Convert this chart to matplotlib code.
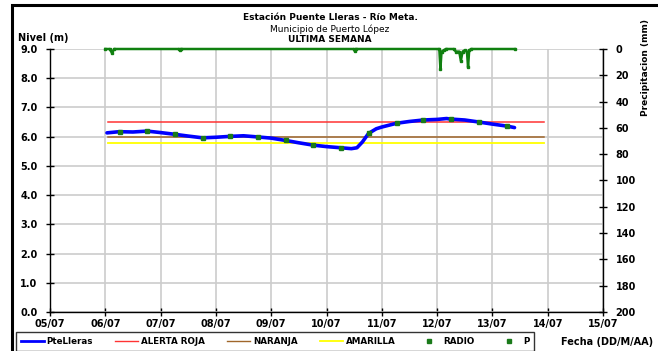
import matplotlib
matplotlib.use("Agg")
import matplotlib.pyplot as plt
from matplotlib.patches import Rectangle
from matplotlib.lines import Line2D

# ---------------- data ----------------
date_labels = ['05/07', '06/07', '07/07', '08/07', '09/07', '10/07',
               '11/07', '12/07', '13/07', '14/07', '15/07']

# level (days after 05/07 00:00, metres)
level_days = [1.03, 1.25, 1.50, 1.76, 2.00, 2.26, 2.50, 2.76, 3.00, 3.26, 3.50,
              3.76, 4.00, 4.26, 4.50, 4.76, 5.00, 5.26, 5.45, 5.55, 5.65, 5.76,
              5.90, 6.00, 6.27, 6.50, 6.75, 7.00, 7.17, 7.26, 7.50, 7.76, 8.00,
              8.27, 8.40]
level_vals = [6.13, 6.17, 6.16, 6.19, 6.14, 6.08, 6.02, 5.96, 5.98, 6.01, 6.03,
              5.99, 5.95, 5.87, 5.79, 5.71, 5.66, 5.62, 5.59, 5.62, 5.82, 6.11,
              6.27, 6.33, 6.46, 6.52, 6.57, 6.59, 6.62, 6.60, 6.57, 6.50, 6.43,
              6.36, 6.31]

radio_days = [1.26, 1.76, 2.26, 2.76, 3.26, 3.76, 4.26, 4.76, 5.26, 5.76,
              6.27, 6.75, 7.26, 7.76, 8.27]
radio_vals = [6.17, 6.18, 6.08, 5.95, 6.01, 5.99, 5.87, 5.71, 5.62, 6.11,
              6.46, 6.57, 6.60, 6.50, 6.36]

# thresholds (m) and their span (days)
alert_red = 6.5
alert_orange = 6.0
alert_yellow = 5.8
alert_span = [1.05, 8.93]

# precipitation (mm)
p_days = [1.00, 1.08, 1.12, 1.16, 2.33, 2.35, 2.37, 5.49, 5.51, 5.53,
          7.04, 7.06, 7.08, 7.12, 7.16, 7.30, 7.34, 7.40, 7.43, 7.46,
          7.50, 7.54, 7.56, 7.58, 7.62, 8.40]
p_vals = [0, 0, 3, 0, 0, 1, 0, 0, 1.5, 0,
          0, 15, 2, 1, 0, 0, 2, 2, 9, 2,
          1, 2, 14, 1, 0, 0]

# ---------------- figure ----------------
FONT = 'DejaVu Sans'
plt.rcParams['font.family'] = FONT

fig = plt.figure(figsize=(6.58, 3.51), dpi=100)
W, H = 658, 351
ax = fig.add_axes([50 / W, 1 - 312 / H, (603 - 50) / W, (312 - 49) / H])

# outer frame
fig.patches.append(Rectangle((12 / W, -0.2), 1.2, 1 - 5 / H + 0.2,
                             transform=fig.transFigure, fill=False,
                             edgecolor='black', linewidth=2.2, clip_on=False))

grid_c = '#cccccc'
ax.set_xlim(0, 10)
ax.set_ylim(0, 9)
ax.set_xticks(range(len(date_labels)))
ax.set_xticklabels(date_labels)
ax.set_yticks([i for i in range(10)])
ax.set_yticklabels([f'{i:.1f}' for i in range(10)])
ax.grid(True, color=grid_c, linewidth=1.2, zorder=0)
ax.set_axisbelow(True)
for s in ['top', 'right']:
    ax.spines[s].set_visible(False)
for s in ['left', 'bottom']:
    ax.spines[s].set_linewidth(1.0)
ax.tick_params(axis='both', direction='inout', length=6, width=1.0,
               labelsize=7)
ax.tick_params(axis='x', pad=2)
ax.tick_params(axis='y', pad=6)
for lab in ax.get_xticklabels() + ax.get_yticklabels():
    lab.set_fontweight('bold')

ax.plot(alert_span, [alert_red, alert_red], color='#ff3333', lw=1.1, zorder=3)
ax.plot(alert_span, [alert_orange, alert_orange], color='#a0662a', lw=1.1, zorder=3)
ax.plot(alert_span, [alert_yellow, alert_yellow], color='#ffff00', lw=1.3, zorder=3)
ax.plot(level_days, level_vals, color='#0000ff', lw=2.6, zorder=4,
        solid_capstyle='round')
ax.plot(radio_days, radio_vals, 's', color='#1a7a1a', ms=2.4, zorder=5)

ax2 = ax.twinx()
ax2.set_ylim(200, 0)
ax2.set_yticks(range(0, 201, 20))
ax2.set_yticklabels([str(v) for v in range(0, 201, 20)])
for s in ['top', 'left', 'bottom']:
    ax2.spines[s].set_visible(False)
ax2.spines['right'].set_linewidth(1.0)
ax2.tick_params(axis='y', direction='inout', length=6, width=1.0,
                labelsize=7, pad=6)
for lab in ax2.get_yticklabels():
    lab.set_fontweight('bold')
ax2.plot(p_days, p_vals, '-s', color='#108010', lw=1.8, ms=1.6, zorder=5,
         clip_on=False)

# texts
fig.text(330 / W, 1 - 17 / H, 'Estación Puente Lleras - Río Meta.',
         ha='center', va='center', fontsize=6.5, fontweight='bold')
fig.text(330 / W, 1 - 29 / H, 'Municipio de Puerto López',
         ha='center', va='center', fontsize=6.5)
fig.text(330 / W, 1 - 40 / H, 'ULTIMA SEMANA',
         ha='center', va='center', fontsize=6.5, fontweight='bold')
fig.text(18 / W, 1 - 38 / H, 'Nivel (m)', ha='left', va='center',
         fontsize=7, fontweight='bold')
fig.text(646 / W, 1 - 68 / H, 'Precipitacion (mm)', ha='center', va='center',
         rotation=90, fontsize=6.5, fontweight='bold')
fig.text(607 / W, 1 - 342 / H, 'Fecha (DD/M/AA)', ha='center', va='center',
         fontsize=7, fontweight='bold')

# legend
handles = [
    Line2D([], [], color='#0000ff', lw=2),
    Line2D([], [], color='#ff3333', lw=1),
    Line2D([], [], color='#a0662a', lw=1),
    Line2D([], [], color='#ffff00', lw=1.3),
    Line2D([], [], ls='none', marker='s', color='#1a7a1a', ms=2.2),
    Line2D([], [], ls='none', marker='s', color='#1a7a1a', ms=2.2),
]
labels = ['PteLleras', 'ALERTA ROJA', 'NARANJA', 'AMARILLA', 'RADIO', 'P']
leg = fig.legend(handles, labels, loc='upper left', ncol=6,
                 bbox_to_anchor=(16 / W, 1 - 332 / H),
                 prop={'family': FONT, 'weight': 'bold', 'size': 6.3},
                 frameon=True, fancybox=False, edgecolor='black',
                 handlelength=2.6, handletextpad=0.3, columnspacing=2.6,
                 borderpad=0.55, borderaxespad=0)
leg.get_frame().set_linewidth(1.0)

fig.savefig('out.png', dpi=100)
